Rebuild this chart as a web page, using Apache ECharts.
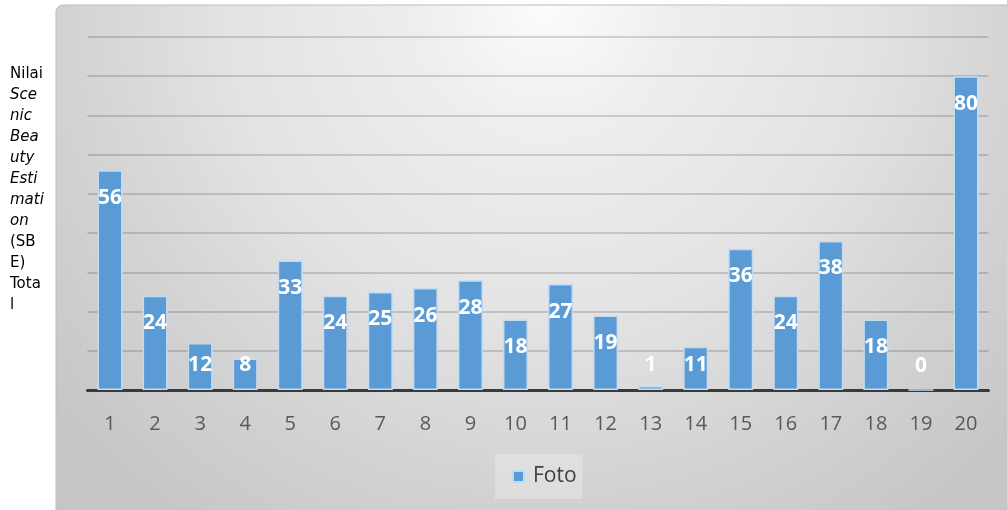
<!DOCTYPE html>
<html>
<head>
<meta charset="utf-8">
<script src="https://cdn.jsdelivr.net/npm/echarts@6/dist/echarts.min.js"></script>
<style>
  html, body { margin: 0; padding: 0; background: #fff; }
  #chart { width: 1007px; height: 510px; }
</style>
</head>
<body>
<div id="chart"></div>
<script>
// data
var categories = ['1','2','3','4','5','6','7','8','9','10','11','12','13','14','15','16','17','18','19','20'];
var fotoValues = [56, 24, 12, 8, 33, 24, 25, 26, 28, 18, 27, 19, 1, 11, 36, 24, 38, 18, 0, 80];
var seriesName = 'Foto';

var chart = echarts.init(document.getElementById('chart'), null, { renderer: 'canvas' });

// small bars get their label sitting near the axis, like the original
var barData = fotoValues.map(function (v) {
  if (v < 15) {
    return { value: v, label: { position: 'insideBottom', distance: 14 } };
  }
  return v;
});

var option = {
  backgroundColor: '#ffffff',
  animation: false,
  graphic: [{
    type: 'rect',
    z: -10,
    shape: { x: 56, y: 5, width: 980, height: 530, r: 7 },
    style: {
      fill: {
        type: 'radial', x: 0.5, y: 0, r: 1.2,
        colorStops: [
          { offset: 0, color: '#fcfcfc' },
          { offset: 0.2, color: '#eeeeee' },
          { offset: 0.5, color: '#e3e3e3' },
          { offset: 0.75, color: '#d3d3d3' },
          { offset: 1, color: '#c6c6c6' }
        ]
      },
      stroke: '#bdbdbd',
      lineWidth: 1
    }
  }],
  title: {
    left: 5,
    top: 59,
    text: '{n|Nilai}\n{i|Sce}\n{i|nic}\n{i|Bea}\n{i|uty}\n{i|Esti}\n{i|mati}\n{i|on}\n{n|(SB}\n{n|E)}\n{n|Tota}\n{n|l}',
    textStyle: {
      fontWeight: 'normal',
      rich: {
        n: { fontFamily: 'DejaVu Sans', fontSize: 15, fontWeight: 'normal', color: '#000', lineHeight: 21 },
        i: { fontFamily: 'DejaVu Sans', fontSize: 15, fontWeight: 'normal', color: '#000', lineHeight: 21, fontStyle: 'italic' }
      }
    }
  },
  legend: {
    left: 495,
    top: 454,
    padding: [12, 6, 12, 17],
    backgroundColor: 'rgba(255,255,255,0.25)',
    icon: 'rect',
    itemWidth: 11,
    itemHeight: 11,
    textStyle: { fontFamily: 'Open Sans', fontSize: 21, color: '#404040', padding: [0, 0, 0, 4] },
    data: [seriesName]
  },
  grid: { left: 87.5, right: 18.5, top: 37, bottom: 120, containLabel: false },
  xAxis: {
    type: 'category',
    data: categories,
    axisLine: { lineStyle: { color: '#3a3a3a', width: 3 } },
    axisTick: { show: false },
    axisLabel: { fontFamily: 'Open Sans', fontSize: 20, color: '#595959', margin: 24 }
  },
  yAxis: {
    type: 'value',
    min: 0,
    max: 90,
    interval: 10,
    axisLabel: { show: false },
    axisLine: { show: false },
    axisTick: { show: false },
    splitLine: { lineStyle: { color: 'rgba(0,0,0,0.2)', width: 1.5 } }
  },
  series: [{
    name: seriesName,
    type: 'bar',
    data: barData,
    barWidth: 25,
    itemStyle: { color: '#5b9bd5', borderColor: '#c3dbf1', borderWidth: 1.5 },
    label: {
      show: true,
      position: 'insideTop',
      distance: 17,
      color: '#ffffff',
      fontFamily: 'Open Sans',
      fontWeight: 'bold',
      fontSize: 21
    }
  }]
};

chart.setOption(option);
</script>
</body>
</html>
